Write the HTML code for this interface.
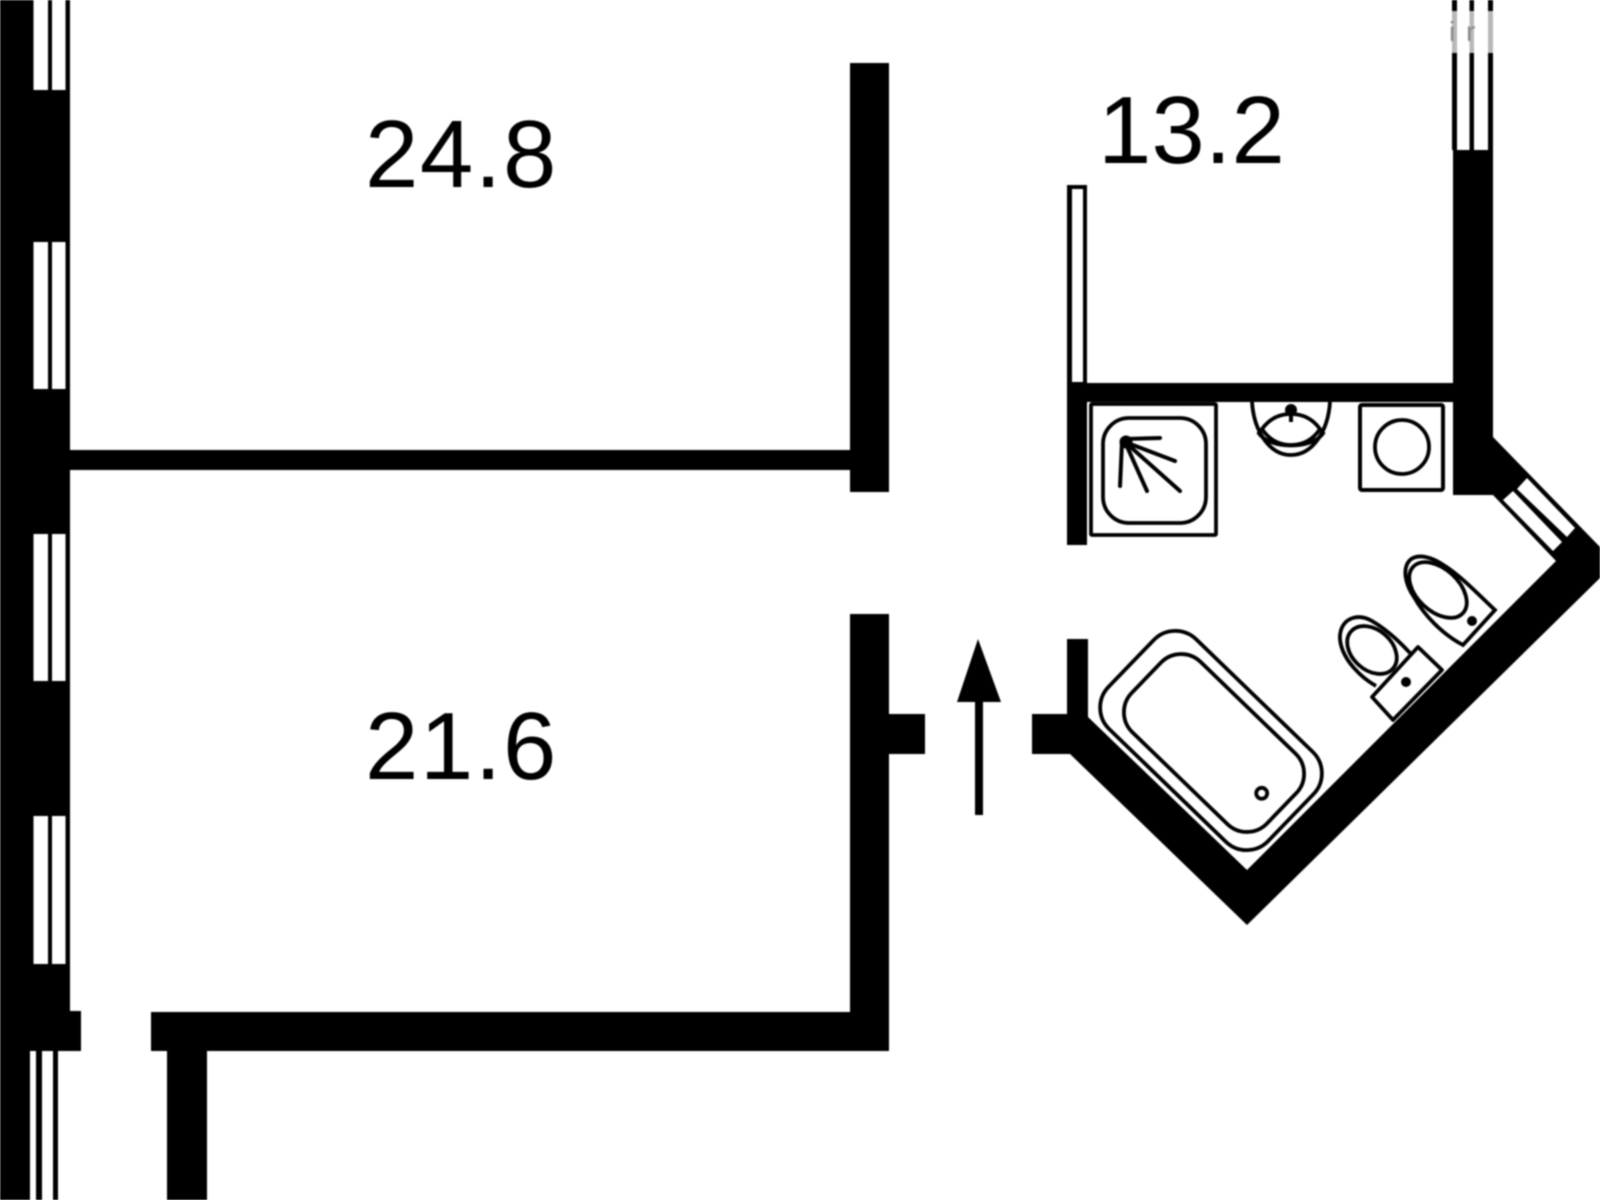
<!DOCTYPE html>
<html>
<head>
<meta charset="utf-8">
<style>
html,body{margin:0;padding:0;background:#fff;width:1600px;height:1200px;overflow:hidden}
svg{display:block;filter:blur(.8px)}
text{font-family:"Liberation Sans",sans-serif}
.w{fill:#fff}
.l{fill:none;stroke:#000;stroke-width:3.8}
</style>
</head>
<body>
<svg width="1600" height="1200" viewBox="0 0 1600 1200" xmlns="http://www.w3.org/2000/svg">
<rect width="1600" height="1200" fill="#fff"/>

<!-- left wall -->
<rect x="0" y="0" width="70" height="1011"/>
<rect x="0" y="1011" width="81" height="40"/>
<rect x="0" y="1051" width="30" height="149"/>
<g class="w">
<rect x="33.5" y="0" width="14.5" height="90"/><rect x="52" y="0" width="13.5" height="90"/>
<rect x="33.5" y="242" width="14.5" height="147"/><rect x="52" y="242" width="13.5" height="147"/>
<rect x="33.5" y="534" width="14.5" height="147"/><rect x="52" y="534" width="13.5" height="147"/>
<rect x="33.5" y="816" width="14.5" height="148"/><rect x="52" y="816" width="13.5" height="148"/>
</g>
<rect x="36" y="1051" width="6" height="149"/>
<rect x="53" y="1051" width="5" height="149"/>

<!-- interior walls -->
<rect x="70" y="450" width="780" height="20"/>
<rect x="850" y="63" width="39" height="429"/>
<rect x="850" y="614" width="39" height="437"/>
<rect x="889" y="714" width="36" height="40"/>
<rect x="151" y="1012" width="738" height="39"/>
<rect x="167" y="1051" width="40" height="149"/>

<!-- arrow -->
<polygon points="978,639 1001,702 957,702"/>
<rect x="975" y="702" width="8" height="113"/>

<!-- balcony partition and bathroom walls -->
<rect x="1067" y="185" width="20" height="200"/>
<rect x="1072" y="189" width="11" height="193" class="w"/>
<rect x="1067" y="383" width="386" height="19"/>
<rect x="1067" y="383" width="20" height="162"/>

<polygon points="1032,714 1067,714 1067,639 1088,639 1088,717 1247,870 1556,561 1493,495 1453,495 1453,150 1493,150 1493,437 1600,547 1600,578 1247,925 1070,754 1032,754"/>

<!-- diagonal window -->
<polygon class="w" points="1503,500 1513,491 1562,542 1553,551"/>
<polygon class="w" points="1517,489 1527,478 1575,528 1567,537"/>

<!-- top right window -->
<rect x="1452" y="0" width="5" height="150"/>
<rect x="1469.5" y="0" width="4.5" height="150"/>
<rect x="1488" y="0" width="5" height="150"/>
<rect x="1450" y="11" width="45" height="42" fill="#fff" fill-opacity=".72"/>
<text x="1449 1466" y="41" font-size="28" fill="#8a8a8a">ir</text>

<!-- shower -->
<rect x="1091" y="404" width="125" height="131" class="l" rx="1"/>
<rect x="1103" y="418" width="103" height="105" rx="26" class="l"/>
<g stroke="#000" stroke-width="4" fill="none" stroke-linecap="round">
<line x1="1125" y1="439" x2="1160" y2="438"/>
<line x1="1125" y1="442" x2="1175" y2="461"/>
<line x1="1125" y1="442" x2="1180" y2="491"/>
<line x1="1125" y1="442" x2="1147" y2="491"/>
<line x1="1122" y1="442" x2="1120" y2="486"/>
</g>
<circle cx="1126" cy="442" r="6.5"/>

<!-- sink -->
<path d="M1252,402 C1254,432 1270,455 1291,455 C1312,455 1328,432 1330,402" class="l"/>
<path d="M1262,429 C1270,418 1280,414 1291,414 C1302,414 1312,418 1320,429 C1312,441 1302,445 1291,445 C1280,445 1270,441 1262,429 Z" class="l"/>
<path d="M1258,432 C1268,450 1314,450 1324,432" class="l"/>
<circle cx="1291" cy="410" r="6"/>
<rect x="1289" y="410" width="4" height="12"/>

<!-- washing machine -->
<rect x="1360" y="405" width="83" height="85" rx="2" stroke-width="4" stroke="#000" fill="none"/>
<circle cx="1402" cy="447" r="27" class="l"/>

<!-- bath -->
<rect x="1100" y="678" width="222" height="125" rx="30" class="l" transform="rotate(44 1211 740.5)"/>
<rect x="1120" y="694" width="188" height="98" rx="28" class="l" transform="rotate(44 1214 743)"/>
<circle cx="1261.7" cy="793.3" r="5.5" class="l"/>

<!-- right toilet -->
<path d="M1463,645 L1495,610 C1480,596 1462,577 1445,566 C1432,557 1418,553 1410,560 C1402,568 1405,584 1414,597 C1424,615 1442,634 1463,645 Z" class="l"/>
<ellipse cx="1438" cy="590" rx="34" ry="21" transform="rotate(43 1438 590)" class="l"/>
<circle cx="1472" cy="621" r="5"/>

<!-- left toilet -->
<polygon points="1418,647 1442,670 1393,720 1372,697" class="l" stroke-linejoin="round"/>
<path d="M1410,653 C1398,640 1384,628 1372,621 C1358,613 1345,618 1341,630 C1337,643 1345,658 1354,668 C1361,676 1369,682 1376,686" class="l"/>
<ellipse cx="1372" cy="650" rx="28" ry="20" transform="rotate(42 1372 650)" class="l"/>
<circle cx="1406" cy="682" r="5"/>

<!-- labels -->
<text x="365" y="187" font-size="96" letter-spacing="1.5" fill="#000">24.8</text>
<text x="365" y="779" font-size="96" letter-spacing="1.5" fill="#000">21.6</text>
<text x="1098" y="163" font-size="96" fill="#000">13.2</text>
</svg>
</body>
</html>
